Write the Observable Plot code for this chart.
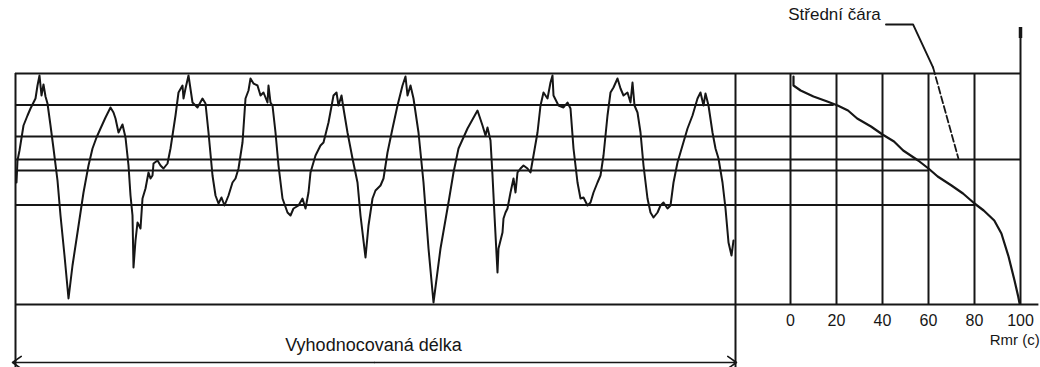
<!DOCTYPE html>
<html>
<head>
<meta charset="utf-8">
<script src="https://cdn.jsdelivr.net/npm/d3@7"></script>
<script src="https://cdn.jsdelivr.net/npm/@observablehq/plot@0.6"></script>
<style>
  body { margin: 0; background: #fff; }
  #chart { position: relative; width: 1040px; height: 367px; background: #fff; }
  #chart svg { position: absolute; left: 0; top: 0; }
</style>
</head>
<body>
<div id="chart"></div>
<script>
// Surface profile over the evaluation length: [position, height]
const profilePoints = [
  [1,122],[2,144],[4,154],[8,179],[12,189],[15,196],[20,206],[22,219],[24,229],[26,209],[28,220],[30,208],[32,201],
  [35,179],[38,156],[42,124],[45,89],[49,49],[53,6],[57,39],[62,72],[68,112],[73,139],[77,156],[81,167],[85,176],
  [90,187],[95,197],[98,192],[100,186],[103,172],[107,180],[110,167],[113,139],[115,109],[117,89],[118,37],[120,64],
  [122,82],[125,76],[127,106],[130,116],[133,132],[135,126],[137,129],[138,141],[142,144],[145,139],[148,136],[152,141],
  [155,156],[160,189],[163,212],[167,219],[168,206],[170,216],[173,229],[177,202],[182,197],[187,206],[190,201],
  [193,172],[197,129],[200,109],[203,101],[206,107],[209,99],[213,109],[217,122],[220,126],[223,136],[227,162],
  [230,206],[233,214],[235,226],[238,221],[242,219],[245,209],[248,212],[252,202],[253,219],[255,202],[257,199],
  [260,172],[263,139],[267,106],[272,92],[275,89],[278,96],[283,99],[287,106],[290,96],[293,112],[295,132],[300,149],
  [305,159],[308,162],[313,182],[318,209],[321,212],[323,199],[326,209],[328,196],[332,172],[337,146],[342,122],
  [345,89],[350,47],[353,79],[357,106],[360,114],[365,119],[368,126],[372,152],[377,176],[382,199],[387,219],[390,228],
  [392,209],[395,219],[398,206],[403,172],[408,122],[413,56],[418,2],[425,56],[433,102],[438,132],[443,156],[452,176],
  [462,194],[467,179],[470,169],[472,177],[475,164],[477,129],[479,89],[482,32],[483,56],[487,72],[488,86],[490,92],
  [492,96],[495,112],[498,126],[500,112],[502,132],[505,136],[508,139],[512,136],[515,132],[518,149],[522,172],
  [525,199],[528,212],[532,206],[535,222],[537,229],[538,209],[543,199],[548,197],[552,202],[555,196],[558,156],
  [562,122],[565,106],[568,107],[572,99],[575,102],[578,112],[582,122],[585,129],[588,149],[592,189],[595,212],
  [598,217],[602,226],[605,216],[608,209],[612,212],[615,202],[617,222],[619,199],[622,192],[625,172],[628,139],
  [632,106],[635,92],[638,87],[642,92],[645,99],[648,102],[652,96],[655,99],[658,122],[662,142],[667,159],[672,176],
  [677,189],[682,206],[685,212],[688,199],[690,211],[693,199],[697,172],[700,156],[703,146],[707,122],[710,96],
  [713,62],[716,49],[718,64]
];
const evalLength = [0, 720];           // evaluation length (profile units)
const arrowTips = [-3, 721];           // dimension arrow ends

// Section levels (height) and where each ends on the Rmr scale (%)
const levelH   = [231, 199.5, 168, 145, 134, 99.5, 0];
const levelEnd = [100, 19, 40, 100, 60, 80, 108];

// Material ratio curve: [Rmr %, height]
const rmrCurve = [
  [1.3,228],[1.3,219],[4.4,214],[10,208],[16,203],[20.5,199],[25,194],[29,186],[35,178],[40,170],[45,163],
  [49,154],[55.5,144],[60,136],[64,128],[70,119],[75,111],[80,101],[84,94],[88.6,84],[91.7,71],[94.8,48],
  [97.4,24],[99,8],[99.6,1]
];
const rmrTicks = [0, 20, 40, 60, 80, 100];
const rmrTickLabels = ["0", "20", "40", "60", "80", "100"];

// Leader for the mean line label
const leaderSolid  = [[41.5,280],[53.3,280],[62,237]];
const leaderDashed = [[62,237],[73,146]];

const labelEval = "Vyhodnocovaná délka";
const labelMean = "Střední čára";
const labelRmr  = "Rmr (c)";

const W = 1040, H = 367;
const ink = "#161616";
const font = "'Liberation Sans', Arial, sans-serif";
const yOpts = {domain: [0, 231], range: [304, 73], axis: null};
const rmrRange = [790, 1020];
const rmrLeft = d3.scaleLinear([0, 100], rmrRange).invert(15);

const profilePlot = Plot.plot({
  width: W, height: H, margin: 0,
  style: {fontFamily: font, background: "none", overflow: "visible"},
  x: {domain: evalLength, range: [15, 735], axis: null},
  y: yOpts,
  marks: [
    Plot.ruleX(evalLength, {x: d => d, y1: -63, y2: 231, stroke: ink, strokeWidth: 2}),
    Plot.line(profilePoints, {x: d => d[0], y: d => d[1], stroke: ink, strokeWidth: 2, strokeLinejoin: "round"}),
    Plot.arrow(arrowTips, {x1: 359, x2: d => d, y1: -58, y2: -58, stroke: ink, strokeWidth: 1.6, headLength: 10, headAngle: 70}),
    Plot.text([labelEval], {x: 358, y: -41, fontSize: 18, fill: ink})
  ]
});

const rmrPlot = Plot.plot({
  width: W, height: H, margin: 0,
  style: {fontFamily: font, background: "none", overflow: "visible", color: ink},
  x: {domain: [0, 100], range: rmrRange, axis: null},
  y: yOpts,
  marks: [
    Plot.ruleY(levelH, {y: d => d, x1: rmrLeft, x2: (d, i) => levelEnd[i], stroke: ink, strokeWidth: 2}),
    Plot.ruleX(rmrTicks, {x: d => d, y1: 0, y2: 231, stroke: ink, strokeWidth: 2}),
    Plot.ruleX([100], {x: d => d, y1: 231, y2: 276, stroke: ink, strokeWidth: 2}),
    Plot.ruleX([100], {x: d => d, y1: 266, y2: 277, stroke: ink, strokeWidth: 3.5}),
    Plot.line(rmrCurve, {x: d => d[0], y: d => d[1], stroke: ink, strokeWidth: 2.2, strokeLinejoin: "round"}),
    Plot.line(leaderSolid, {x: d => d[0], y: d => d[1], stroke: ink, strokeWidth: 1.8}),
    Plot.line(leaderDashed, {x: d => d[0], y: d => d[1], stroke: ink, strokeWidth: 1.8, strokeDasharray: "7,3"}),
    Plot.text(rmrTicks, {x: d => d, y: -16, text: (d, i) => rmrTickLabels[i], fontSize: 16, fill: ink}),
    Plot.text([labelMean], {x: -1, y: 290, textAnchor: "start", fontSize: 17, fill: ink}),
    Plot.text([labelRmr], {x: 97.5, y: -36, fontSize: 15, fill: ink})
  ]
});

const host = document.getElementById("chart");
host.appendChild(profilePlot);
host.appendChild(rmrPlot);
</script>
</body>
</html>
